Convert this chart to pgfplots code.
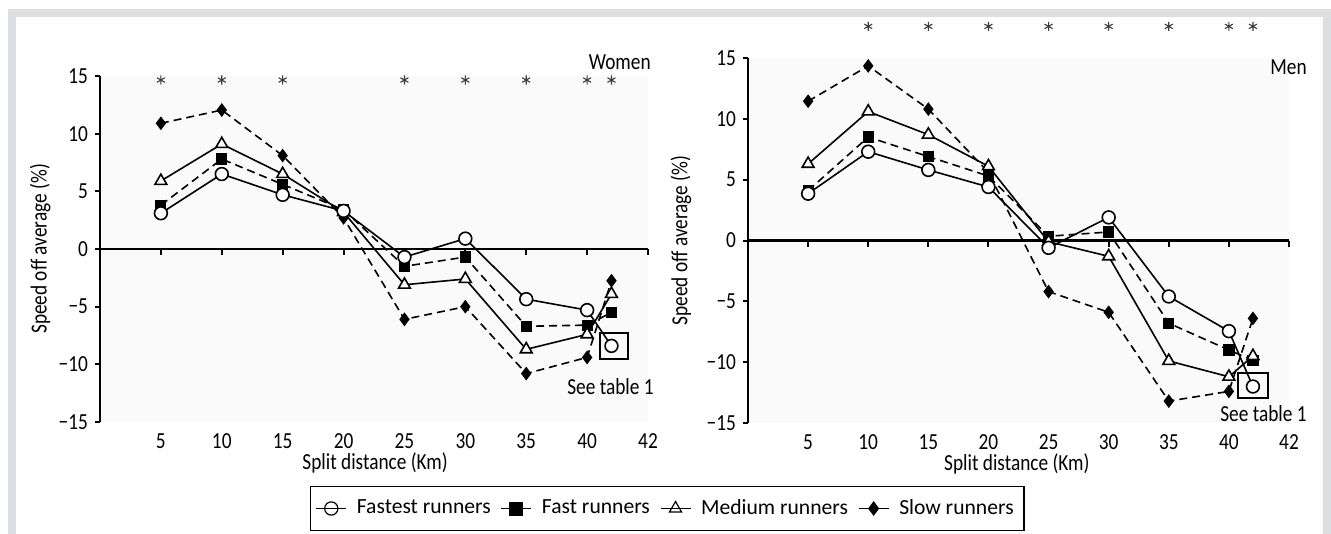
\documentclass[border=0pt]{standalone}
\usepackage{fontspec}
\setmainfont{Carlito}[FakeStretch=0.84]
\newfontfamily\legfamily{Carlito}
\usepackage{pgfplots}
\pgfplotsset{compat=1.18}
\definecolor{framegray}{RGB}{221,222,224}
\definecolor{astgray}{RGB}{60,60,60}
\newcommand{\lblfont}{\fontsize{11.5}{13}\selectfont}
\newcommand{\legfont}{\legfamily\fontsize{10.8}{13}\selectfont}

\pgfplotsset{
  panel/.style={
    scale only axis, clip=false,
    xmin=0, xmax=9, ymin=-15, ymax=15,
    axis y line*=left, axis x line*=bottom,
    x axis line style={draw=none},
    y axis line style={line width=1pt, -},
    xtick={1,2,3,4,5,6,7,8,9}, xticklabels={5,10,15,20,25,30,35,40,42},
    xtick style={draw=none},
    ytick={-15,-10,-5,0,5,10,15},
    yticklabels={−15,−10,−5,0,5,10,15},
    ytick style={line width=1pt, black},
    tick align=outside, major tick length=2.5pt,
    tick label style={font=\lblfont},
    label style={font=\lblfont},
    axis background/.style={fill=black!2},
    legend image code/.code={\draw[mark repeat=2,mark phase=2,##1] plot coordinates {(0pt,0pt) (7.5pt,0pt) (15pt,0pt)};},
  },
  fastest/.style={black, line width=0.8pt, solid, mark=*, mark size=3.2pt, mark options={fill=white, solid}},
  fast/.style={black, line width=0.8pt, dash pattern=on 4pt off 2.5pt, mark=square*, mark size=2.4pt, mark options={fill=black, solid}},
  medium/.style={black, line width=0.8pt, solid, mark=triangle*, mark size=3.4pt, mark options={fill=white, solid}},
  slow/.style={black, line width=0.8pt, dash pattern=on 4pt off 2.5pt, mark=diamond*, mark size=2.8pt, mark options={fill=black, solid}},
  ast/.style={only marks, mark=asterisk, mark size=2.3pt, astgray, mark options={line width=0.55pt}},
}

\begin{document}
\begin{tikzpicture}
\fill[white] (0pt,0pt) rectangle (665.5pt,-267pt);
\fill[framegray] (4pt,-4.5pt) rectangle (665.5pt,-267pt);
\fill[white] (8pt,-8.5pt) rectangle (661.5pt,-267pt);

% ---------------- Women ----------------
\begin{axis}[panel,
  at={(50pt,-211pt)}, anchor=south west,
  width=274pt, height=173pt,
  xlabel={Split distance (Km)},
  ylabel={Speed off average (\%)},
  xlabel style={at={(axis description cs:0.502,0)}, anchor=center, yshift=-20.5pt},
  ylabel style={at={(axis description cs:-0.109,0.5)}, anchor=center},
  legend columns=4,
  legend style={at={(axis description cs:1.035,-0.25)}, anchor=center,
    draw=black, line width=0.8pt, font=\legfont,
    inner xsep=2.5pt, inner ysep=4.5pt,
    nodes={inner xsep=2.5pt},
    /tikz/every odd column/.append style={column sep=2.5pt},
    /tikz/every even column/.append style={column sep=2.5pt}},
  legend cell align=left,
]
\draw[line width=1.1pt] (axis cs:0,0) -- (axis cs:9,0);
\pgfplotsinvokeforeach{1,...,9}{\draw[line width=1pt] (axis cs:#1,0) -- ++(0pt,-3pt);}

\addlegendimage{black, line width=0.6pt, solid, mark=o, mark size=3.3pt}
\addlegendentry{Fastest runners}
\addlegendimage{black, line width=0.6pt, solid, mark=square*, mark size=3.2pt, mark options={fill=black}}
\addlegendentry{Fast runners}
\addlegendimage{black, line width=0.6pt, solid, mark=triangle, mark size=3.5pt}
\addlegendentry{Medium runners}
\addlegendimage{black, line width=0.6pt, solid, mark=diamond*, mark size=3.2pt, mark options={fill=black}}
\addlegendentry{Slow runners}

\addplot[slow, forget plot] coordinates {(1,10.9) (2,12.05) (3,8.1) (4,2.7) (5,-6.1) (6,-5.0) (7,-10.8) (8,-9.4) (8.4,-2.75)};
\addplot[fast, forget plot] coordinates {(1,3.8) (2,7.8) (3,5.6) (4,3.4) (5,-1.5) (6,-0.7) (7,-6.7) (8,-6.6) (8.4,-5.5)};
\addplot[medium, forget plot] coordinates {(1,5.9) (2,9.1) (3,6.5) (4,3.2) (5,-3.1) (6,-2.6) (7,-8.7) (8,-7.4) (8.4,-3.9)};
\addplot[fastest, forget plot] coordinates {(1,3.1) (2,6.5) (3,4.7) (4,3.3) (5,-0.7) (6,0.9) (7,-4.35) (8,-5.3) (8.4,-8.4)};

\addplot[ast, forget plot] coordinates {(1,14.65) (2,14.65) (3,14.65) (5,14.65) (6,14.65) (7,14.65) (8,14.65) (8.4,14.65)};

\node[draw=black, line width=1pt, minimum width=14pt, minimum height=13pt, inner sep=0pt] at (axis cs:8.44,-8.4) {};
\node[anchor=east, font=\lblfont, inner sep=0pt] at (axis cs:9.05,16.2) {Women};
\node[anchor=east, font=\lblfont, inner sep=0pt] at (axis cs:9.1,-11.95) {See table 1};
\end{axis}

% ---------------- Men ----------------
\begin{axis}[panel,
  at={(374pt,-211.5pt)}, anchor=south west,
  width=270.5pt, height=182.5pt,
  xlabel={Split distance (Km)},
  ylabel={Speed off average (\%)},
  xlabel style={at={(axis description cs:0.497,0)}, anchor=center, yshift=-20.5pt},
  ylabel style={at={(axis description cs:-0.124,0.5)}, anchor=center},
]
\draw[line width=1.1pt] (axis cs:0,0) -- (axis cs:9,0);
\pgfplotsinvokeforeach{1,...,9}{\draw[line width=1pt] (axis cs:#1,0) -- ++(0pt,-3pt);}

\addplot[slow] coordinates {(1,11.45) (2,14.35) (3,10.8) (4,5.6) (5,-4.2) (6,-5.9) (7,-13.2) (8,-12.4) (8.4,-6.4)};
\addplot[fast] coordinates {(1,4.1) (2,8.5) (3,6.9) (4,5.3) (5,0.35) (6,0.7) (7,-6.8) (8,-9.0) (8.4,-9.85)};
\addplot[medium] coordinates {(1,6.3) (2,10.6) (3,8.7) (4,6.1) (5,-0.1) (6,-1.3) (7,-9.9) (8,-11.2) (8.4,-9.5)};
\addplot[fastest] coordinates {(1,3.85) (2,7.3) (3,5.8) (4,4.4) (5,-0.6) (6,1.9) (7,-4.6) (8,-7.45) (8.4,-12.0)};

\addplot[ast] coordinates {(2,17.6) (3,17.6) (4,17.6) (5,17.6) (6,17.6) (7,17.6) (8,17.6) (8.4,17.6)};

\node[draw=black, line width=1pt, minimum width=15pt, minimum height=12.5pt, inner sep=0pt] at (axis cs:8.4,-11.95) {};
\node[anchor=east, font=\lblfont, inner sep=0pt] at (axis cs:9.3,14.25) {Men};
\node[anchor=east, font=\lblfont, inner sep=0pt] at (axis cs:9.3,-14.25) {See table 1};
\end{axis}
\end{tikzpicture}
\end{document}
